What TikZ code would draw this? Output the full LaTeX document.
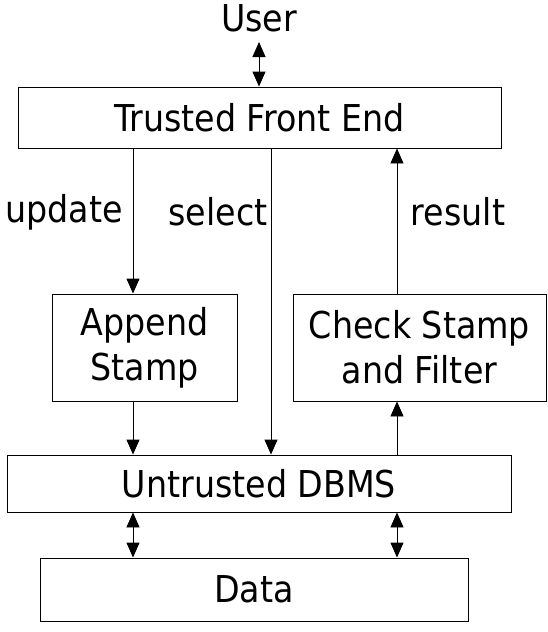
\documentclass[tikz,border=0pt]{standalone}
\usepackage{fontspec}
\setmainfont{DejaVu Sans Condensed}
\usetikzlibrary{arrows.meta}
\tikzset{
  box/.style={draw, line width=0.9pt, minimum height=#1, inner sep=0pt},
  lbl/.style={inner sep=0pt},
  arr/.style={line width=0.9pt, -{Triangle[width=13pt,length=15pt]}},
  darr/.style={line width=0.9pt, {Triangle[width=13pt,length=15pt]}-{Triangle[width=13pt,length=15pt]}}
}
\begin{document}
\begin{tikzpicture}[x=1pt, y=-1pt, font=\fontsize{37}{45}\selectfont]
\useasboundingbox (0,0) rectangle (548,632);

% Boxes
\node[box=61pt, minimum width=483pt] (front) at (259.5,117.5) {Trusted Front End};
\node[box=107pt, minimum width=185pt, align=center] (append) at (144.5,347.5) {Append\\Stamp};
\node[box=107pt, minimum width=253pt, align=center] (check) at (419.5,347.5) {Check Stamp\\and Filter};
\node[box=57pt, minimum width=504pt] (dbms) at (259,483.5) {Untrusted DBMS};
\node[box=63pt, minimum width=428pt] (data) at (254,589.5) {Data};

% User on top
\node[lbl] (user) at (259,18) {User};
\coordinate (userfoot) at (259,42);

% x positions of the connectors
\coordinate (lx) at (133,0);
\coordinate (mx) at (271,0);
\coordinate (rx) at (397,0);

% Connectors
\draw[darr] (userfoot) -- (front.north -| userfoot);
\draw[arr] (front.south -| lx) -- (append.north -| lx);
\draw[arr] (front.south -| mx) -- (dbms.north -| mx);
\draw[arr] (check.north -| rx) -- (front.south -| rx);
\draw[arr] (append.south -| lx) -- (dbms.north -| lx);
\draw[arr] (dbms.north -| rx) -- (check.south -| rx);
\draw[darr] (dbms.south -| lx) -- (data.north -| lx);
\draw[darr] (dbms.south -| rx) -- (data.north -| rx);

% Labels
\node[lbl] (updlbl) at (64,212) {update};
\node[lbl] (sellbl) at (218,212) {select};
\node[lbl] (reslbl) at (458,212) {result};
\end{tikzpicture}
\end{document}
